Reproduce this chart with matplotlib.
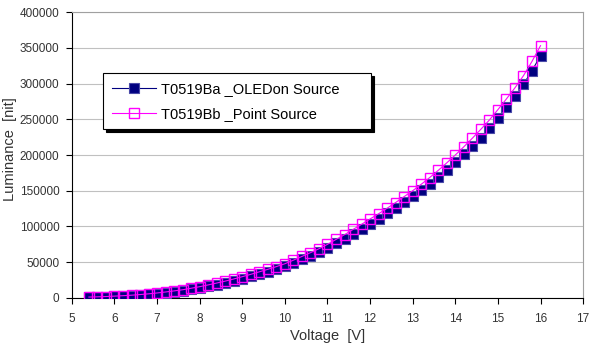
import matplotlib
matplotlib.use("Agg")
import matplotlib.pyplot as plt
from matplotlib.ticker import MultipleLocator

plt.rcParams['font.family'] = ['Liberation Sans', 'DejaVu Sans']

# voltage [V]
voltage = [5.4, 5.6, 5.8, 6.0, 6.2, 6.4, 6.6, 6.8, 7.0, 7.2,
           7.4, 7.6, 7.8, 8.0, 8.2, 8.4, 8.6, 8.8, 9.0, 9.2,
           9.4, 9.6, 9.8, 10.0, 10.2, 10.4, 10.6, 10.8, 11.0, 11.2,
           11.4, 11.6, 11.8, 12.0, 12.2, 12.4, 12.6, 12.8, 13.0, 13.2,
           13.4, 13.6, 13.8, 14.0, 14.2, 14.4, 14.6, 14.8, 15.0, 15.2,
           15.4, 15.6, 15.8, 16.0]

# luminance [nit]
lum_ba = [800, 1100, 1400, 2000, 2600, 3200, 4000, 5000, 6000, 7300,
          8700, 10000, 12000, 14000, 16300, 18700, 21200, 24000, 27000, 30200,
          33500, 36800, 40300, 44000, 48800, 53800, 58800, 64000, 70000, 76500,
          83000, 90000, 97000, 104000, 111000, 118500, 126000, 134000, 142000, 150500,
          159500, 169000, 179000, 190000, 201000, 212500, 224500, 237500, 252000, 266500,
          282000, 299000, 318000, 339000]

lum_bb = [1200, 1500, 1900, 2500, 3100, 3800, 4700, 5700, 6900, 8300,
          9800, 11400, 13500, 15700, 18200, 20800, 23500, 26500, 29700, 33000,
          36500, 40000, 43800, 47800, 52800, 58000, 63300, 68800, 75000, 81800,
          88500, 95800, 103000, 110500, 117800, 125500, 133500, 141800, 150000, 159000,
          168500, 178500, 189000, 200000, 211500, 223500, 236000, 249000, 263500, 278500,
          294000, 311000, 331000, 353000]

label_ba = 'T0519Ba _OLEDon Source'
label_bb = 'T0519Bb _Point Source'

fig = plt.figure(figsize=(5.89, 3.46), dpi=100)
ax = fig.add_axes([0.122, 0.139, 0.868, 0.826])

ax.plot(voltage, lum_ba, color='#000080', lw=0.8, marker='s', markersize=6.5,
        markerfacecolor='#000080', markeredgecolor='#4a4aa8', markeredgewidth=0.8,
        label=label_ba, zorder=3)
ax.plot(voltage, lum_bb, color='#ff00ff', lw=0.8, marker='s', markersize=7,
        markerfacecolor='none', markeredgecolor='#ff00ff', markeredgewidth=1.0,
        label=label_bb, zorder=4)

ax.set_xlim(5, 17)
ax.set_ylim(0, 400000)
ax.xaxis.set_major_locator(MultipleLocator(1))
ax.yaxis.set_major_locator(MultipleLocator(50000))
ax.grid(axis='y', color='#c0c0c0', lw=0.8)
ax.set_axisbelow(True)

for s in ['top', 'right']:
    ax.spines[s].set_color('#a0a0a0')
for s in ['left', 'bottom']:
    ax.spines[s].set_color('black')
ax.tick_params(axis='both', direction='out', length=4, width=0.8,
               labelsize=8.5, colors='#333333')
ax.tick_params(axis='both', color='black')
ax.tick_params(axis='x', pad=7)
ax.tick_params(axis='y', pad=5)

ax.set_xlabel('Voltage  [V]', fontsize=10.5, color='#333333', labelpad=3)
ax.set_ylabel('Luminance  [nit]', fontsize=10.5, color='#333333')
ax.yaxis.set_label_coords(-0.108, 0.52)

leg = ax.legend(loc='upper left', bbox_to_anchor=(0.061, 0.594, 0.524, 0.193),
                mode='expand', fontsize=10.5,
                frameon=True, fancybox=False, shadow={'color': 'black', 'alpha': 1},
                edgecolor='black', framealpha=1, borderpad=0.6, labelspacing=0.75,
                handlelength=3.0, handletextpad=0.4, borderaxespad=0)
leg.get_frame().set_linewidth(0.8)

fig.savefig('out.png', dpi=100)
